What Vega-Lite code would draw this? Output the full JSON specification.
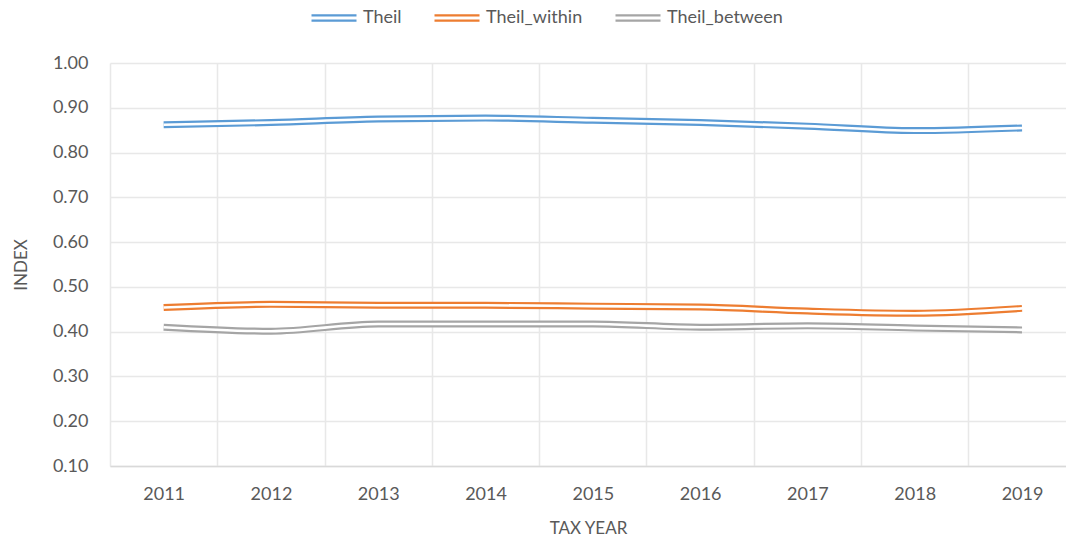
{
  "$schema": "https://vega.github.io/schema/vega-lite/v6.json",
  "width": 956,
  "height": 403,
  "autosize": {"type": "none"},
  "padding": {"left": 110, "top": 63, "right": 0, "bottom": 71},
  "background": "white",
  "config": {
    "font": "Lato",
    "view": {"stroke": null},
    "axis": {
      "labelFont": "Lato",
      "titleFont": "Lato",
      "labelFontSize": 18,
      "titleFontSize": 17,
      "labelColor": "#595959",
      "titleColor": "#595959",
      "titleFontWeight": "normal",
      "gridColor": "#e8e8e8",
      "gridWidth": 1.5,
      "ticks": false
    },
    "legend": {
      "labelFont": "Lato",
      "labelFontSize": 18,
      "labelColor": "#595959"
    }
  },
  "data": {
    "values": [
      {"year": 2011, "series": "Theil", "value": 0.862},
      {"year": 2012, "series": "Theil", "value": 0.867},
      {"year": 2013, "series": "Theil", "value": 0.875},
      {"year": 2014, "series": "Theil", "value": 0.877},
      {"year": 2015, "series": "Theil", "value": 0.872},
      {"year": 2016, "series": "Theil", "value": 0.867},
      {"year": 2017, "series": "Theil", "value": 0.859},
      {"year": 2018, "series": "Theil", "value": 0.849},
      {"year": 2019, "series": "Theil", "value": 0.855},
      {"year": 2011, "series": "Theil_within", "value": 0.454},
      {"year": 2012, "series": "Theil_within", "value": 0.461},
      {"year": 2013, "series": "Theil_within", "value": 0.459},
      {"year": 2014, "series": "Theil_within", "value": 0.459},
      {"year": 2015, "series": "Theil_within", "value": 0.457},
      {"year": 2016, "series": "Theil_within", "value": 0.455},
      {"year": 2017, "series": "Theil_within", "value": 0.446},
      {"year": 2018, "series": "Theil_within", "value": 0.441},
      {"year": 2019, "series": "Theil_within", "value": 0.452},
      {"year": 2011, "series": "Theil_between", "value": 0.410},
      {"year": 2012, "series": "Theil_between", "value": 0.401},
      {"year": 2013, "series": "Theil_between", "value": 0.417},
      {"year": 2014, "series": "Theil_between", "value": 0.417},
      {"year": 2015, "series": "Theil_between", "value": 0.417},
      {"year": 2016, "series": "Theil_between", "value": 0.410},
      {"year": 2017, "series": "Theil_between", "value": 0.413},
      {"year": 2018, "series": "Theil_between", "value": 0.408},
      {"year": 2019, "series": "Theil_between", "value": 0.404}
    ]
  },
  "encoding": {
    "x": {
      "field": "year",
      "type": "quantitative",
      "scale": {"domain": [2010.5, 2019.41], "nice": false, "zero": false},
      "axis": {
        "title": "TAX YEAR",
        "values": [2010.5, 2011.5, 2012.5, 2013.5, 2014.5, 2015.5, 2016.5, 2017.5, 2018.5],
        "labelExpr": "format(datum.value + 0.5, 'd')",
        "labelOffset": 53.65,
        "labelFlush": false,
        "labelAlign": "center",
        "labelBound": false,
        "labelOverlap": false,
        "labelPadding": 19,
        "titlePadding": 17,
        "grid": true,
        "domain": true,
        "domainColor": "#d9d9d9",
        "domainWidth": 1.5
      }
    },
    "y": {
      "field": "value",
      "type": "quantitative",
      "scale": {"domain": [0.1, 1.0], "nice": false, "zero": false},
      "axis": {
        "title": "INDEX",
        "values": [0.1, 0.2, 0.3, 0.4, 0.5, 0.6, 0.7, 0.8, 0.9, 1.0],
        "format": ".2f",
        "labelPadding": 22,
        "titlePadding": 22,
        "labelFlush": false,
        "grid": true,
        "domain": false
      }
    }
  },
  "layer": [
    {
      "mark": {"type": "line", "strokeWidth": 7, "interpolate": "monotone"},
      "encoding": {
        "color": {
          "field": "series",
          "type": "nominal",
          "scale": {
            "domain": ["Theil", "Theil_within", "Theil_between"],
            "range": ["#5B9BD5", "#ED7D31", "#A5A5A5"]
          },
          "legend": {
            "title": null,
            "orient": "none",
            "direction": "horizontal",
            "legendX": 200,
            "legendY": -69,
            "symbolType": "M-1,-0.12H1M-1,0.12H1",
            "symbolSize": 2025,
            "symbolStrokeWidth": 2.2,
            "symbolFillColor": "transparent",
            "labelOffset": 5,
            "columnPadding": 28
          }
        }
      }
    },
    {
      "mark": {"type": "line", "strokeWidth": 2.6, "color": "white", "interpolate": "monotone"},
      "encoding": {
        "detail": {"field": "series", "type": "nominal"}
      }
    }
  ]
}
